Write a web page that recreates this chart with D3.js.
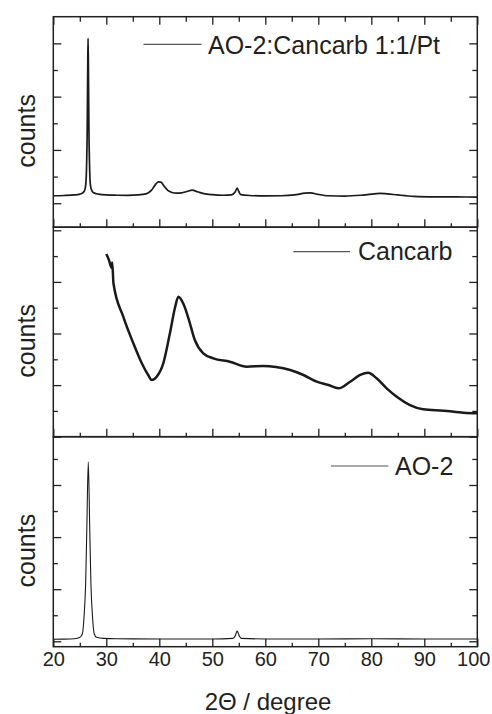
<!DOCTYPE html>
<html>
<head>
<meta charset="utf-8">
<script src="https://cdn.jsdelivr.net/npm/d3@7"></script>
<style>
  body { margin: 0; background: #fff; }
  text { font-family: "Liberation Sans", Arial, sans-serif; fill: #231f20; }
</style>
</head>
<body>
<div id="chart"></div>
<script>
// x axis
const xMajorTicks = [20, 30, 40, 50, 60, 70, 80, 90, 100];
const xMinorTicks = [25, 35, 45, 55, 65, 75, 85, 95];
const seriesNames = ["AO-2:Cancarb 1:1/Pt", "Cancarb", "AO-2"];

// AO-2:Cancarb 1:1/Pt
const mixAngle = [20, 22, 24, 25, 25.6, 25.9, 26.1, 26.25, 26.4, 26.5, 26.56, 26.62, 26.72, 26.87, 27.02, 27.25, 27.6,
  28.5, 30, 32, 34, 36, 37.5, 38.5, 39.2, 39.8, 40.3, 40.9, 41.6, 42.4, 43.2, 44.2, 45.2, 46.2, 47.2, 48.4,
  50, 52, 53.6, 54.3, 54.7, 55.0, 55.4, 57, 60, 63, 65.5, 67.5, 68.5, 70, 72, 75, 78, 80, 81.6, 83, 85, 88, 92, 96, 100];
const mixCounts = [140, 145, 155, 170, 200, 240, 330, 600, 1400, 2600, 3096, 2600, 1400, 600, 330, 240, 195,
  170, 155, 150, 148, 155, 175, 240, 340, 400, 395, 320, 240, 200, 188, 195, 220, 245, 215, 180,
  160, 150, 155, 210, 285, 220, 160, 145, 138, 140, 155, 190, 195, 165, 140, 135, 150, 170, 185, 175, 155, 130, 120, 118, 115];

// Cancarb
const cancarbAngle = [30.0, 30.5, 31.0, 31.12, 31.35, 33.2, 35.1, 36.7, 37.9, 38.6, 39.5, 40.75, 42.0, 43.0, 43.6, 44.5,
  45.5, 46.7, 48.3, 50.2, 53.3, 56.5, 59.6, 62.0, 64.7, 67.2, 69.7, 71.9, 73.8, 76.0, 77.9, 79.4, 81.0, 82.9,
  84.8, 87.3, 89.8, 93.6, 97.4, 100];
const cancarbCounts = [3541, 3424, 3269, 3376, 2973, 2326, 1810, 1422, 1196, 1099, 1163, 1422, 2004, 2519, 2713, 2585,
  2295, 1874, 1616, 1519, 1453, 1357, 1370, 1351, 1293, 1196, 1066, 1002, 938, 1066, 1196, 1240, 1132, 938,
  775, 614, 531, 504, 465, 453];

// AO-2
const ao2Angle = [20, 22, 24, 25.05, 25.5, 25.8, 26.1, 26.32, 26.6, 26.88, 27.1, 27.4, 27.7, 28.15, 29.5, 32, 40, 50,
  53.9, 54.3, 54.55, 54.7, 54.85, 55.1, 55.5, 60, 70, 80, 90, 100];
const ao2Counts = [40, 42, 50, 77, 150, 472, 1100, 2136, 3447, 2136, 1100, 472, 150, 77, 55, 48, 45, 45,
  55, 100, 170, 198, 170, 100, 55, 45, 45, 48, 45, 45];

const width = 492;
const height = 714;
const left = 53.3;
const right = 477.3;
const ink = "#231f20";

// 三个面板的布局
const panels = [
  { top: 16.7, bottom: 227.2, domain: [-450, 3500], angle: mixAngle, counts: mixCounts, lw: 1.7,
    legend: { x1: 143.5, x2: 201.5, y: 44.3, tx: 208, ty: 54.3 } },
  { top: 227.2, bottom: 436.7, domain: [0, 4060], angle: cancarbAngle, counts: cancarbCounts, lw: 2.5,
    legend: { x1: 293.3, x2: 350, y: 251.7, tx: 358, ty: 260.3 } },
  { top: 436.7, bottom: 646.7, domain: [-104, 3927], angle: ao2Angle, counts: ao2Counts, lw: 1.1,
    legend: { x1: 331, x2: 388.3, y: 466, tx: 395, ty: 475 } }
];

const svg = d3.select("#chart").append("svg")
  .attr("width", width)
  .attr("height", height);

const x = d3.scaleLinear().domain([20, 100]).range([left, right]);

function styleAxis(g) {
  g.select(".domain").remove();
  g.selectAll(".tick line").attr("stroke", ink).attr("stroke-width", 1.3);
}

panels.forEach((p, i) => {
  const y = d3.scaleLinear().domain(p.domain).range([p.bottom, p.top]);
  const majors = d3.range(0, p.domain[1], 1000).filter(v => v >= p.domain[0]);
  const minors = d3.range(500, p.domain[1], 1000).filter(v => v > p.domain[0]);

  // clip
  svg.append("clipPath").attr("id", `clip-${i}`)
    .append("rect")
    .attr("x", left).attr("y", p.top)
    .attr("width", right - left).attr("height", p.bottom - p.top);

  // data line
  const line = d3.line()
    .x(d => x(d[0]))
    .y(d => y(d[1]))
    .curve(d3.curveMonotoneX);

  svg.append("path")
    .datum(d3.zip(p.angle, p.counts))
    .attr("clip-path", `url(#clip-${i})`)
    .attr("fill", "none")
    .attr("stroke", "#1a1a1a")
    .attr("stroke-width", p.lw)
    .attr("stroke-linejoin", "round")
    .attr("d", line);

  // y ticks, left and right, pointing inward
  svg.append("g").attr("transform", `translate(${left},0)`)
    .call(d3.axisLeft(y).tickValues(majors).tickSize(-8).tickFormat(""))
    .call(styleAxis);
  svg.append("g").attr("transform", `translate(${left},0)`)
    .call(d3.axisLeft(y).tickValues(minors).tickSize(-4.5).tickFormat(""))
    .call(styleAxis);
  svg.append("g").attr("transform", `translate(${right},0)`)
    .call(d3.axisRight(y).tickValues(majors).tickSize(-8).tickFormat(""))
    .call(styleAxis);
  svg.append("g").attr("transform", `translate(${right},0)`)
    .call(d3.axisRight(y).tickValues(minors).tickSize(-5).tickFormat(""))
    .call(styleAxis);

  // x ticks at the bottom of each panel
  const bottomAxis = svg.append("g").attr("transform", `translate(0,${p.bottom})`)
    .call(d3.axisBottom(x).tickValues(xMajorTicks).tickSize(-8).tickPadding(5)
      .tickFormat(i === panels.length - 1 ? d3.format("d") : ""))
    .call(styleAxis);
  bottomAxis.attr("font-family", null).attr("font-size", null);
  bottomAxis.selectAll("text")
    .attr("font-size", "20px")
    .attr("fill", ink)
    .attr("dx", d => d === 100 ? -4 : 0);
  svg.append("g").attr("transform", `translate(0,${p.bottom})`)
    .call(d3.axisBottom(x).tickValues(xMinorTicks).tickSize(-4).tickFormat(""))
    .call(styleAxis);

  if (i === 0) {
    svg.append("g").attr("transform", `translate(0,${p.top})`)
      .call(d3.axisTop(x).tickValues(xMajorTicks).tickSize(-8).tickFormat(""))
      .call(styleAxis);
    svg.append("g").attr("transform", `translate(0,${p.top})`)
      .call(d3.axisTop(x).tickValues(xMinorTicks).tickSize(-5).tickFormat(""))
      .call(styleAxis);
  }

  // frame
  svg.append("rect")
    .attr("x", left).attr("y", p.top)
    .attr("width", right - left).attr("height", p.bottom - p.top)
    .attr("fill", "none")
    .attr("stroke", ink)
    .attr("stroke-width", 1.5);

  // y label
  const cy = (p.top + p.bottom) / 2 + 9;
  svg.append("text")
    .attr("transform", `translate(35,${cy}) rotate(-90)`)
    .attr("text-anchor", "middle")
    .attr("font-size", "25px")
    .text("counts");

  // legend
  svg.append("line")
    .attr("x1", p.legend.x1).attr("x2", p.legend.x2)
    .attr("y1", p.legend.y).attr("y2", p.legend.y)
    .attr("stroke", "#555")
    .attr("stroke-width", 1.2);
  svg.append("text")
    .attr("x", p.legend.tx).attr("y", p.legend.ty)
    .attr("font-size", "25px")
    .text(seriesNames[i]);
});

// x title
svg.append("text")
  .attr("x", 268).attr("y", 709.5)
  .attr("text-anchor", "middle")
  .attr("font-size", "24px")
  .text("2Θ / degree");
</script>
</body>
</html>
